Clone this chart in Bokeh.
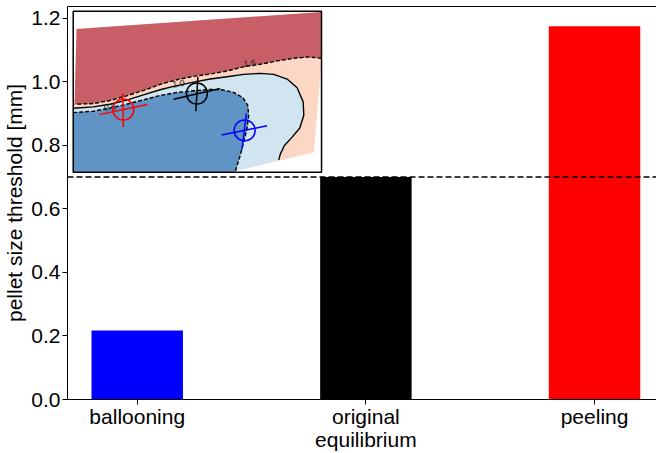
from bokeh.plotting import figure
from bokeh.models import Range1d, FixedTicker, PrintfTickFormatter, LinearAxis, Span
from bokeh.core.properties import value
from bokeh.embed import file_html
from bokeh.resources import INLINE

# ---- main bar data -------------------------------------------------------
categories = ["ballooning", "original\nequilibrium", "peeling"]
thresholds = [0.217, 0.700, 1.175]          # pellet size threshold [mm]
bar_colors = ["#0000ff", "#000000", "#ff0000"]
reference_level = thresholds[1]             # original equilibrium threshold
y_ticks = [0.0, 0.2, 0.4, 0.6, 0.8, 1.0, 1.2]

# ---- inset: stability diagram (inset pixel-like coordinates) -------------
inset_box_u = [40, 783]
inset_box_v = [20, 500]

domain_u = [50, 783, 783, 760, 525, 513, 40, 40, 44]
domain_v = [73, 22, 170, 440, 497, 500, 500, 340, 300]

# region above the 1.5 contour
red_u = [50, 783, 783, 745, 700, 650, 600, 560, 500, 450, 400, 350, 300, 250, 200, 150, 100, 44]
red_v = [73, 22, 160, 156, 160, 168, 178, 183, 198, 207, 214, 224, 238, 256, 272, 286, 295, 297]

# 1.0 contour
c10_u = [40, 100, 150, 200, 250, 300, 340, 400, 450, 500, 550, 600, 640, 680, 710, 728, 730, 718, 695, 672, 660, 655]
c10_v = [309, 305, 297, 285, 269, 254, 244, 231, 222, 215, 208, 205, 208, 222, 248, 290, 330, 368, 395, 420, 445, 463]

# 0.5 contour
c05_u = [40, 100, 150, 200, 250, 300, 350, 400, 450, 485, 520, 548, 562, 565, 560, 550, 538, 525]
c05_v = [322, 318, 308, 297, 284, 271, 262, 257, 253, 254, 262, 278, 300, 330, 370, 410, 455, 497]

bottom_edge_u = [525, 513, 40]
bottom_edge_v = [497, 500, 500]

contour_labels = ["1.5", "1.0", "0.5"]
contour_label_u = [568, 355, 150]
contour_label_v = [176, 236, 306]

marker_u = [190, 410, 553]
marker_v = [313, 265, 375]
marker_colors = ["#ff0000", "#000000", "#0000ff"]
arm1_u0 = [188, 413, 558]; arm1_v0 = [265, 215, 325]
arm1_u1 = [190, 407, 545]; arm1_v1 = [365, 318, 432]
arm2_u0 = [118, 340, 484]; arm2_v0 = [328, 282, 389]
arm2_u1 = [262, 480, 620]; arm2_v1 = [298, 250, 361]

# ---- figure --------------------------------------------------------------
X0, X1 = -0.305, 2.271
Y0, Y1 = 0.0, 1.237
FONT = "Liberation Sans"
FS = "21px"

p = figure(width=656, height=453, x_range=Range1d(X0, X1), y_range=Range1d(Y0, Y1),
           output_backend="svg", toolbar_location=None,
           min_border_left=67, min_border_right=0, min_border_top=6, min_border_bottom=53)
p.grid.visible = False
p.outline_line_color = None
p.background_fill_color = "white"

p.vbar(x=[0, 1, 2], top=thresholds, width=0.4, fill_color=bar_colors, line_color=None)
p.add_layout(Span(location=reference_level, dimension="width", line_color="black",
                  line_width=1.5, line_dash="6 3"))

xa = p.xaxis[0]
xa.ticker = FixedTicker(ticks=[0, 1, 2])
xa.major_label_overrides = {i: c for i, c in enumerate(categories)}
xa.major_label_text_line_height = 1.0

ya = p.yaxis[0]
ya.ticker = FixedTicker(ticks=y_ticks)
ya.formatter = PrintfTickFormatter(format="%.1f")
ya.axis_label = "pellet size threshold [mm]"
ya.axis_label_text_font = FONT
ya.axis_label_text_font_size = FS
ya.axis_label_text_font_style = "normal"
ya.axis_label_text_color = "black"
ya.axis_label_standoff = 2
for ax in (xa, ya):
    ax.major_label_text_font = FONT
    ax.major_label_text_font_size = FS
    ax.major_label_text_color = "black"
    ax.major_tick_out = 5
    ax.major_tick_in = 0
    ax.minor_tick_out = 0
    ax.minor_tick_in = 0
    ax.axis_line_color = "black"
    ax.major_tick_line_color = "black"
ya.major_label_standoff = 2
xa.major_label_standoff = 0

top_axis = LinearAxis(ticker=FixedTicker(ticks=[]), major_label_text_font_size="0px",
                      major_tick_out=0, major_tick_in=0, minor_tick_out=0, minor_tick_in=0,
                      major_label_standoff=0, axis_line_color="black")
p.add_layout(top_axis, "above")

# ---- inset placement (in main data coordinates) --------------------------
inset_x = (-0.280, 0.806)
inset_y = (0.715, 1.222)
su = (inset_box_u[1] - inset_box_u[0]) / (inset_x[1] - inset_x[0])
sv = (inset_box_v[1] - inset_box_v[0]) / (inset_y[1] - inset_y[0])
p.extra_x_ranges = {"inset": Range1d(inset_box_u[0] + (X0 - inset_x[0]) * su,
                                     inset_box_u[0] + (X1 - inset_x[0]) * su)}
p.extra_y_ranges = {"inset": Range1d(inset_box_v[1] + (inset_y[0] - Y0) * sv,
                                     inset_box_v[0] - (Y1 - inset_y[1]) * sv)}
kw = dict(x_range_name="inset", y_range_name="inset")

p.quad(left=[inset_box_u[0]], right=[inset_box_u[1]], top=[inset_box_v[0]],
       bottom=[inset_box_v[1]], fill_color="white", line_color=None, **kw)
p.patch(domain_u, domain_v, fill_color="#fbd7c4", line_color=None, **kw)
p.patch(red_u, red_v, fill_color="#c95f66", line_color=None, **kw)
p.patch(c10_u + bottom_edge_u, c10_v + bottom_edge_v, fill_color="#d1e5f0",
        line_color=None, **kw)
p.patch(c05_u + bottom_edge_u[1:], c05_v + bottom_edge_v[1:], fill_color="#5f94c4",
        line_color=None, **kw)

p.line(red_u[2:], red_v[2:], line_color="black", line_width=1.4, line_dash="4 2", **kw)
p.line(c10_u, c10_v, line_color="black", line_width=1.4, **kw)
p.line(c05_u, c05_v, line_color="black", line_width=1.4, line_dash="4 2", **kw)
p.text(x=contour_label_u, y=contour_label_v, text=contour_labels, angle=0.12,
       text_font=value(FONT), text_font_size="9px", text_color="#222222",
       text_align="center", text_baseline="middle", **kw)

p.scatter(x=marker_u, y=marker_v, marker="circle", size=21, fill_color=None,
          line_color=marker_colors, line_width=1.5, **kw)
p.segment(x0=arm1_u0, y0=arm1_v0, x1=arm1_u1, y1=arm1_v1, line_color=marker_colors,
          line_width=1.5, **kw)
p.segment(x0=arm2_u0, y0=arm2_v0, x1=arm2_u1, y1=arm2_v1, line_color=marker_colors,
          line_width=1.5, **kw)

p.quad(left=[inset_box_u[0]], right=[inset_box_u[1]], top=[inset_box_v[0]],
       bottom=[inset_box_v[1]], fill_color=None, line_color="black", line_width=1.5, **kw)

open("out.html", "w").write(file_html(p, INLINE))
